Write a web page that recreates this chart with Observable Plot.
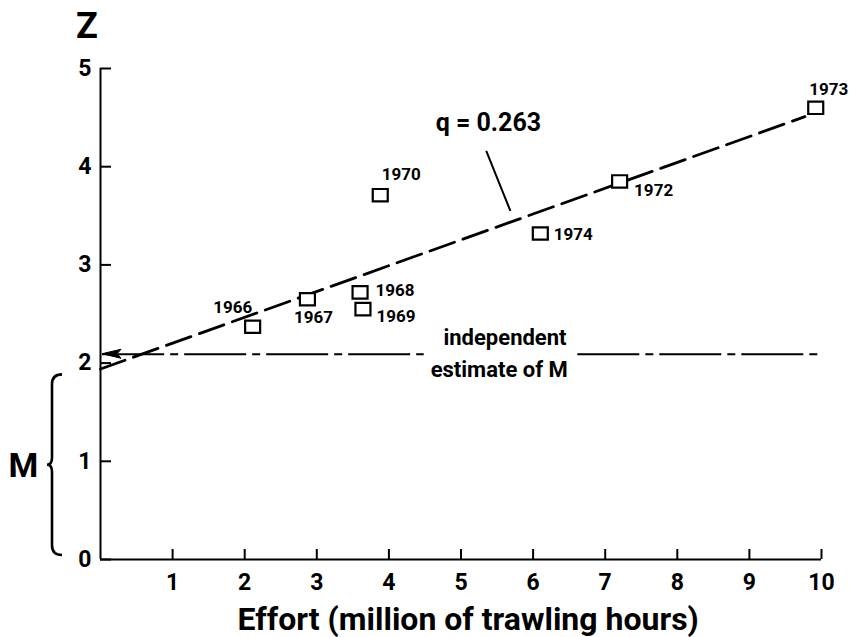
<!DOCTYPE html>
<html>
<head>
<meta charset="utf-8">
<script src="https://cdn.jsdelivr.net/npm/d3@7"></script>
<script src="https://cdn.jsdelivr.net/npm/@observablehq/plot@0.6"></script>
<style>
  html, body { margin: 0; padding: 0; background: #fff; }
  #chart svg { display: block; }
</style>
</head>
<body>
<div id="chart"></div>
<script>
// Total mortality Z against fishing effort, one box per year
const years     = [1966, 1967, 1968, 1969, 1970, 1972, 1973, 1974];
const effort    = [2.11, 2.87, 3.60, 3.64, 3.88, 7.20, 9.92, 6.10];
const mortality = [2.37, 2.65, 2.72, 2.55, 3.71, 3.85, 4.60, 3.32];

// Fitted line Z = M + q·f
const q = 0.263;
const zIntercept = 1.94;
const fitEnd = 9.77;

// Independent estimate of natural mortality M
const mEstimate = 2.09;

const xTicks = [1, 2, 3, 4, 5, 6, 7, 8, 9, 10];
const yTicks = [0, 1, 2, 3, 4, 5];

const points = years.map((year, i) => ({year: String(year), effort: effort[i], z: mortality[i]}));
const fitLine = [
  {effort: 0, z: zIntercept},
  {effort: fitEnd, z: zIntercept + q * fitEnd}
];

// where each year label sits relative to its box (px)
const labelNudge = {
  1966: [-20, -19], 1967: [6, 18], 1968: [35, -2], 1969: [33, 7.5],
  1970: [21, -21], 1972: [34, 9], 1973: [13, -18], 1974: [33, 1]
};

const font = "Roboto, 'Liberation Sans', sans-serif";

// open box symbol, a little wider than tall
const box = {draw(ctx) { ctx.rect(-7.5, -6.2, 15, 12.4); }};

// curly brace marking the M part of the Z axis
function brace(index, scales) {
  const sx = scales.x(0) - 48;
  const yT = scales.y(1.88), yB = scales.y(0.04), yM = (yT + yB) / 2;
  const p = d3.path();
  p.moveTo(sx + 10, yT);
  p.quadraticCurveTo(sx, yT, sx, yT + 10);
  p.lineTo(sx, yM - 7);
  p.quadraticCurveTo(sx, yM, sx - 5, yM);
  p.quadraticCurveTo(sx, yM, sx, yM + 7);
  p.lineTo(sx, yB - 10);
  p.quadraticCurveTo(sx, yB, sx + 10, yB);
  return d3.create("svg:path")
    .attr("d", p.toString())
    .attr("fill", "none")
    .attr("stroke", "#000")
    .attr("stroke-width", 2.6)
    .node();
}

// arrowhead pointing at the Z axis from the M estimate line
function arrowHead(index, scales) {
  const x = scales.x(0) + 2, y = scales.y(mEstimate);
  return d3.create("svg:path")
    .attr("d", `M${x},${y}L${x + 19},${y - 4.5}L${x + 15},${y}L${x + 19},${y + 4.5}Z`)
    .attr("fill", "#000")
    .attr("stroke", "#000")
    .attr("stroke-width", 1)
    .node();
}

const chart = Plot.plot({
  width: 850,
  height: 637,
  marginLeft: 100,
  marginRight: 29,
  marginTop: 68,
  marginBottom: 78,
  x: {domain: [0, 10]},
  y: {domain: [0, 5]},
  style: {fontFamily: font, background: "#fff", color: "#000"},
  marks: [
    // axis lines
    Plot.ruleX([0], {y1: 0, y2: 5, stroke: "#000", strokeWidth: 2}),
    Plot.ruleY([0], {x1: 0, x2: 10, stroke: "#000", strokeWidth: 2}),
    Plot.axisX({
      ticks: xTicks, tickSize: -10, tickPadding: 24, tickFormat: d => String(d),
      fontSize: 23, fontWeight: "bold", strokeWidth: 2, label: null
    }),
    Plot.axisY({
      ticks: yTicks, tickSize: -11, tickPadding: 20, tickFormat: d => String(d),
      fontSize: 23, fontWeight: "bold", strokeWidth: 2, label: null
    }),

    // independent estimate of M: dash-dot line, broken for its label
    Plot.ruleY([mEstimate], {x1: 0.03, x2: 4.49, stroke: "#000", strokeWidth: 2, strokeDasharray: "62,6,8,6"}),
    Plot.ruleY([mEstimate], {x1: 6.62, x2: 9.95, stroke: "#000", strokeWidth: 2, strokeDasharray: "62,6,8,6"}),
    arrowHead,
    Plot.text(["independent"], {x: 5.61, y: 2.185, lineAnchor: "bottom", fontSize: 22, fontWeight: "bold"}),
    Plot.text(["estimate of M"], {x: 5.53, y: 1.858, lineAnchor: "bottom", fontSize: 22, fontWeight: "bold"}),

    // fitted line
    Plot.line(fitLine, {x: "effort", y: "z", stroke: "#000", strokeWidth: 2.8, strokeDasharray: "26,9"}),

    // slope annotation with its leader
    Plot.link([{x1: 5.35, y1: 4.16, x2: 5.685, y2: 3.55}], {x1: "x1", y1: "y1", x2: "x2", y2: "y2", stroke: "#000", strokeWidth: 2}),
    Plot.text([`q = ${q}`], {x: 5.38, y: 4.36, lineAnchor: "bottom", fontSize: 25, fontWeight: "bold"}),

    // yearly observations
    Plot.dot(points, {x: "effort", y: "z", symbol: box, fill: "#fff", stroke: "#000", strokeWidth: 2.2}),
    ...points.map(d => Plot.text([d], {
      x: "effort", y: "z", text: "year",
      dx: labelNudge[d.year][0], dy: labelNudge[d.year][1],
      fontSize: 17, fontWeight: "bold"
    })),

    // axis titles and the M brace
    Plot.text(["Z"], {x: -0.19, y: 5.31, lineAnchor: "bottom", fontSize: 36, fontWeight: "bold"}),
    Plot.text(["M"], {x: -1.07, y: 0.837, lineAnchor: "bottom", fontSize: 34, fontWeight: "bold"}),
    brace,
    Plot.text(["Effort (million of trawling hours)"], {x: 5.10, y: -0.72, lineAnchor: "bottom", fontSize: 32, fontWeight: "bold"})
  ]
});

document.getElementById("chart").appendChild(chart);
</script>
</body>
</html>
